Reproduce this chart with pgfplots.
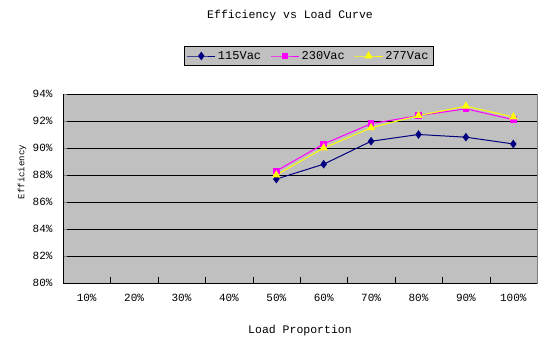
\documentclass[border=0pt]{standalone}
\usepackage{fontspec}
\setmainfont{Liberation Mono}
\usepackage{pgfplots}
\pgfplotsset{compat=1.18}
\definecolor{plotbg}{RGB}{192,192,192}
\definecolor{navyE}{RGB}{0,0,128}
\definecolor{magentaE}{RGB}{255,0,255}
\definecolor{yellowE}{RGB}{255,255,0}
\begin{document}
\begin{tikzpicture}
\useasboundingbox (0pt,0pt) rectangle (540pt,342pt);
\begin{axis}[
  at={(63pt,59pt)}, anchor=south west,
  scale only axis, width=474pt, height=189pt,
  xmin=0.5, xmax=10.5, ymin=80, ymax=94,
  xtick={1,...,10},
  xticklabels={10\%,20\%,30\%,40\%,50\%,60\%,70\%,80\%,90\%,100\%},
  major x tick style={draw=none},
  extra x ticks={1.5,2.5,3.5,4.5,5.5,6.5,7.5,8.5,9.5},
  extra x tick labels={},
  extra x tick style={major tick length=6pt, major x tick style={draw=black}, xmajorgrids=false},
  ytick={80,82,...,94},
  yticklabels={80\%,82\%,84\%,86\%,88\%,90\%,92\%,94\%},
  tick align=inside,
  major tick length=4pt,
  ymajorgrids,
  major grid style={black, line width=0.9pt},
  axis x line*=bottom, axis y line*=left,
  axis line style={-, black, line width=0.9pt},
  axis background/.style={fill=plotbg, draw=gray},
  xticklabel style={font=\fontsize{11}{12}\selectfont, yshift=-8pt},
  yticklabel style={font=\fontsize{11}{12}\selectfont, xshift=-7pt},
  title={Efficiency vs Load Curve},
  title style={at={(0.479,1.381)}, anchor=center, font=\fontsize{11.5}{13}\selectfont},
  xlabel={Load Proportion},
  xlabel style={at={(axis description cs:0.5,-0.249)}, anchor=center, font=\fontsize{11.5}{13}\selectfont},
  ylabel={Efficiency},
  ylabel style={at={(axis description cs:-0.0865,0.587)}, anchor=center, font=\fontsize{9}{11}\selectfont},
  legend columns=3,
  legend style={at={(0.518,1.201)}, anchor=center, fill=plotbg, draw=black, line width=0.9pt,
    font=\fontsize{12}{14}\selectfont, inner sep=2.5pt,
    /tikz/every even column/.append style={column sep=7pt}},
  legend image code/.code={\draw[mark repeat=2,mark phase=2] plot coordinates {(0cm,0cm)(0.5cm,0cm)(1cm,0cm)};},
  clip=false,
]
\addplot[navyE, line width=1pt, mark=diamond*, mark size=3.5pt, mark options={solid, fill=navyE}]
  coordinates {(5,87.7)(6,88.8)(7,90.5)(8,91.0)(9,90.8)(10,90.3)};
\addlegendentry{115Vac}
\addplot[magentaE, line width=1pt, mark=square*, mark size=2.8pt, mark options={solid, fill=magentaE}]
  coordinates {(5,88.3)(6,90.3)(7,91.8)(8,92.4)(9,92.9)(10,92.1)};
\addlegendentry{230Vac}
\addplot[yellowE, line width=1pt, mark=triangle*, mark size=3.8pt, mark options={solid, fill=yellowE}]
  coordinates {(5,88.0)(6,90.0)(7,91.5)(8,92.4)(9,93.1)(10,92.3)};
\addlegendentry{277Vac}
\end{axis}
\end{tikzpicture}
\end{document}
